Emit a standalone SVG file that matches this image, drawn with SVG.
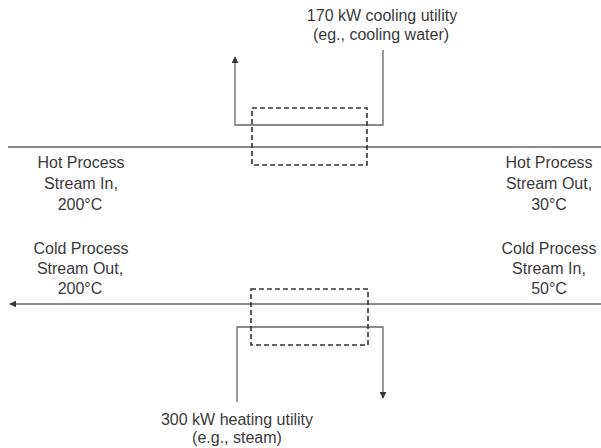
<svg xmlns="http://www.w3.org/2000/svg" width="601" height="448" viewBox="0 0 601 448">
<style>
.ln{fill:none;stroke:#666;stroke-width:1.3}
.db{fill:none;stroke:#333;stroke-width:1.6;stroke-dasharray:5,3}
text{font-family:"Liberation Sans",Arial,sans-serif;font-size:16px;fill:#3a3a3a;text-anchor:middle}
</style>
<defs>
<marker id="ah" viewBox="0 0 10 10" refX="9" refY="5" markerWidth="7" markerHeight="7" markerUnits="userSpaceOnUse" orient="auto">
<path d="M0,0 L10,5 L0,10 z" fill="#333"/>
</marker>
</defs>
<rect width="601" height="448" fill="#fff"/>
<g id="connectors">
<line class="ln" x1="8" y1="147" x2="601" y2="147"/>
<line class="ln" x1="601" y1="304" x2="10" y2="304" marker-end="url(#ah)"/>
<polyline class="ln" points="383,50 383,125 235,125 235,57" marker-end="url(#ah)"/>
<polyline class="ln" points="237,402 237,327 383,327 383,398" marker-end="url(#ah)"/>
</g>
<g id="cooler"><rect class="db" x="252" y="108" width="115" height="57"/></g>
<g id="heater"><rect class="db" x="251" y="289" width="117" height="56"/></g>
<g id="cooling-label"><text x="382" y="21">170 kW cooling utility</text><text x="381" y="40">(eg., cooling water)</text></g>
<g id="heating-label"><text x="237" y="425">300 kW heating utility</text><text x="237" y="443">(e.g., steam)</text></g>
<g id="hot-in"><text x="81" y="168">Hot Process</text><text x="81" y="189">Stream In,</text><text x="80" y="210">200°C</text></g>
<g id="hot-out"><text x="549" y="168">Hot Process</text><text x="549" y="189">Stream Out,</text><text x="549" y="210">30°C</text></g>
<g id="cold-out"><text x="81" y="254">Cold Process</text><text x="80" y="274">Stream Out,</text><text x="80" y="294">200°C</text></g>
<g id="cold-in"><text x="549" y="254">Cold Process</text><text x="549" y="274">Stream In,</text><text x="549" y="294">50°C</text></g>
</svg>
